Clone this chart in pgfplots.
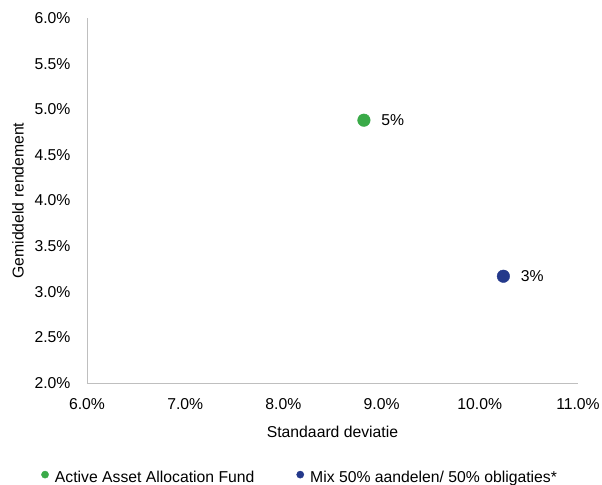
\documentclass[border=0pt]{standalone}
\usepackage{fontspec}
\setmainfont{Liberation Sans}
\usepackage{pgfplots}
\pgfplotsset{compat=1.18}
\definecolor{cgreen}{HTML}{3AAA48}
\definecolor{cnavy}{HTML}{24398B}
\definecolor{axgray}{HTML}{BFBFBF}
\begin{document}
\begin{tikzpicture}[x=1bp,y=1bp]
\path[use as bounding box] (-87,-102) rectangle (515,383);
\begin{axis}[
  at={(0,0)}, anchor=south west,
  scale only axis, width=491bp, height=365bp,
  xmin=6, xmax=11, ymin=2, ymax=6,
  xtick={6,7,...,11}, ytick={2,2.5,...,6},
  xticklabel={\pgfmathprintnumber[fixed,fixed zerofill,precision=1]{\tick}\%},
  yticklabel={\pgfmathprintnumber[fixed,fixed zerofill,precision=1]{\tick}\%},
  /pgf/number format/assume math mode=true,
  axis x line*=bottom, axis y line*=left,
  axis line style={axgray, line width=0.8pt, -},
  major tick length=0pt,
  tick label style={font=\fontsize{15.8}{18}\selectfont, black},
  xticklabel style={yshift=-12bp},
  yticklabel style={xshift=-13bp},
  xlabel={Standaard deviatie},
  ylabel={Gemiddeld rendement},
  label style={font=\fontsize{15.8}{18}\selectfont},
  xlabel style={at={(axis description cs:0.5,-0.134)}, anchor=center},
  ylabel style={at={(axis description cs:-0.1405,0.5)}, anchor=center},
  legend columns=2,
  legend style={draw=none, at={(0.434,-0.258)}, anchor=center,
    font=\fontsize{15.8}{18}\selectfont,
    /tikz/every even column/.append style={column sep=40bp}},
  legend image code/.code={\fill[#1] (0.12cm,0.09cm) circle (3.6bp);\path[draw=none,fill=none] (0.12cm,0.09cm) -- (0.40cm,0.09cm);},
  legend cell align=left,
  clip=false,
]
\addplot[only marks, mark=*, mark size=6.3bp, color=cgreen,
  nodes near coords={5\%}, every node near coord/.style={anchor=west, xshift=14bp, font=\fontsize{15.8}{18}\selectfont, black}]
  coordinates {(8.82,4.88)};
\addlegendentry{Active Asset Allocation Fund}
\addplot[only marks, mark=*, mark size=6.3bp, color=cnavy,
  nodes near coords={3\%}, every node near coord/.style={anchor=west, xshift=14bp, font=\fontsize{15.8}{18}\selectfont, black}]
  coordinates {(10.24,3.17)};
\addlegendentry{Mix 50\% aandelen/ 50\% obligaties*}
\end{axis}
\end{tikzpicture}
\end{document}
